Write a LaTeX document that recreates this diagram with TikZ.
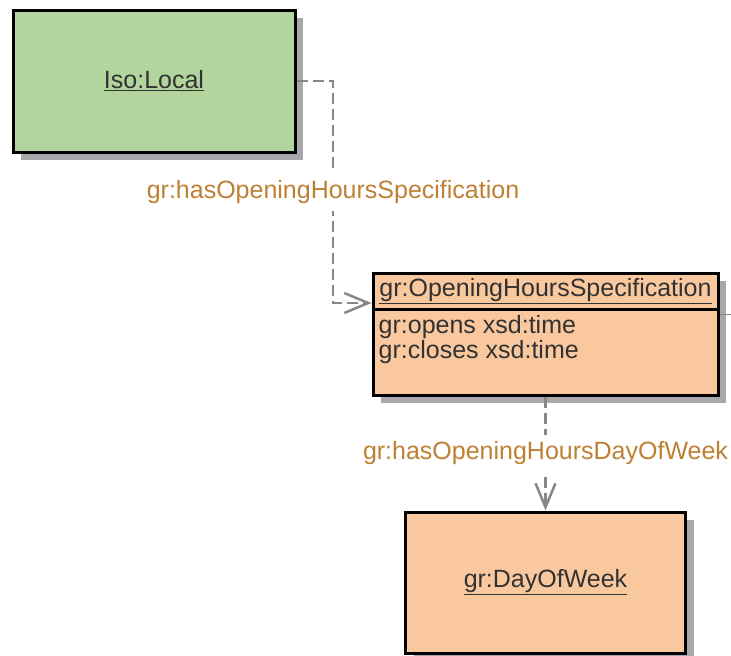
\documentclass[tikz,border=0pt]{standalone}
\usepackage{fontspec}
\setmainfont{Liberation Sans}
\usetikzlibrary{arrows.meta,positioning,shadows}
\definecolor{localgreen}{RGB}{178,213,158}
\definecolor{classorange}{RGB}{250,200,158}
\definecolor{shadowgray}{RGB}{168,168,172}
\definecolor{linkgray}{RGB}{135,135,135}
\definecolor{labelbrown}{RGB}{190,128,50}
\definecolor{boxtext}{RGB}{50,50,50}
\begin{document}
\begin{tikzpicture}
  [x=1pt,y=-1pt,
   every node/.style={font=\fontsize{25}{25}\selectfont, text=boxtext},
   classbox/.style={rectangle, draw=black, line width=3pt, inner sep=0pt,
     drop shadow={shadow xshift=8pt, shadow yshift=-8pt, fill=shadowgray, opacity=1}},
   link/.style={draw=linkgray, line width=2.5pt, dash pattern=on 11pt off 5pt,
     -{Straight Barb[length=24pt,width=20pt]}},
   linklabel/.style={fill=white, text=labelbrown, inner sep=7pt}]
  \useasboundingbox (0,0) rectangle (731,656);

  \node[classbox, fill=localgreen, minimum width=282pt, minimum height=142pt] (local) at (154,81) {\underline{Iso:Local}};
  \node[classbox, fill=classorange, minimum width=345pt, minimum height=36pt] (ohshead) at (545.5,291) {\underline{gr:OpeningHoursSpecification}};
  \node[classbox, fill=classorange, minimum width=345pt, minimum height=86pt] (ohsbody) at (545.5,352) {};
  \node[below right=8pt and 7pt of ohsbody.north west, inner sep=0pt, align=left] (ohsattr) {gr:opens xsd:time\\gr:closes xsd:time};
  \node[classbox, fill=classorange, minimum width=280pt, minimum height=141pt] (dow) at (545.5,582.5) {\underline{gr:DayOfWeek}};
  \draw[shadowgray!80!black, line width=1pt] (ohshead.south east) ++(0,4) -- ++(13,0);

  \coordinate (bend) at (333,303);
  \draw[link] (local.east) -| (bend) -- (bend -| ohshead.west);
  \node[linklabel] (lbl1) at (333,192) {gr:hasOpeningHoursSpecification};
  \draw[link] (ohsbody) -- node[linklabel] (lbl2) {gr:hasOpeningHoursDayOfWeek} (dow);
\end{tikzpicture}
\end{document}
